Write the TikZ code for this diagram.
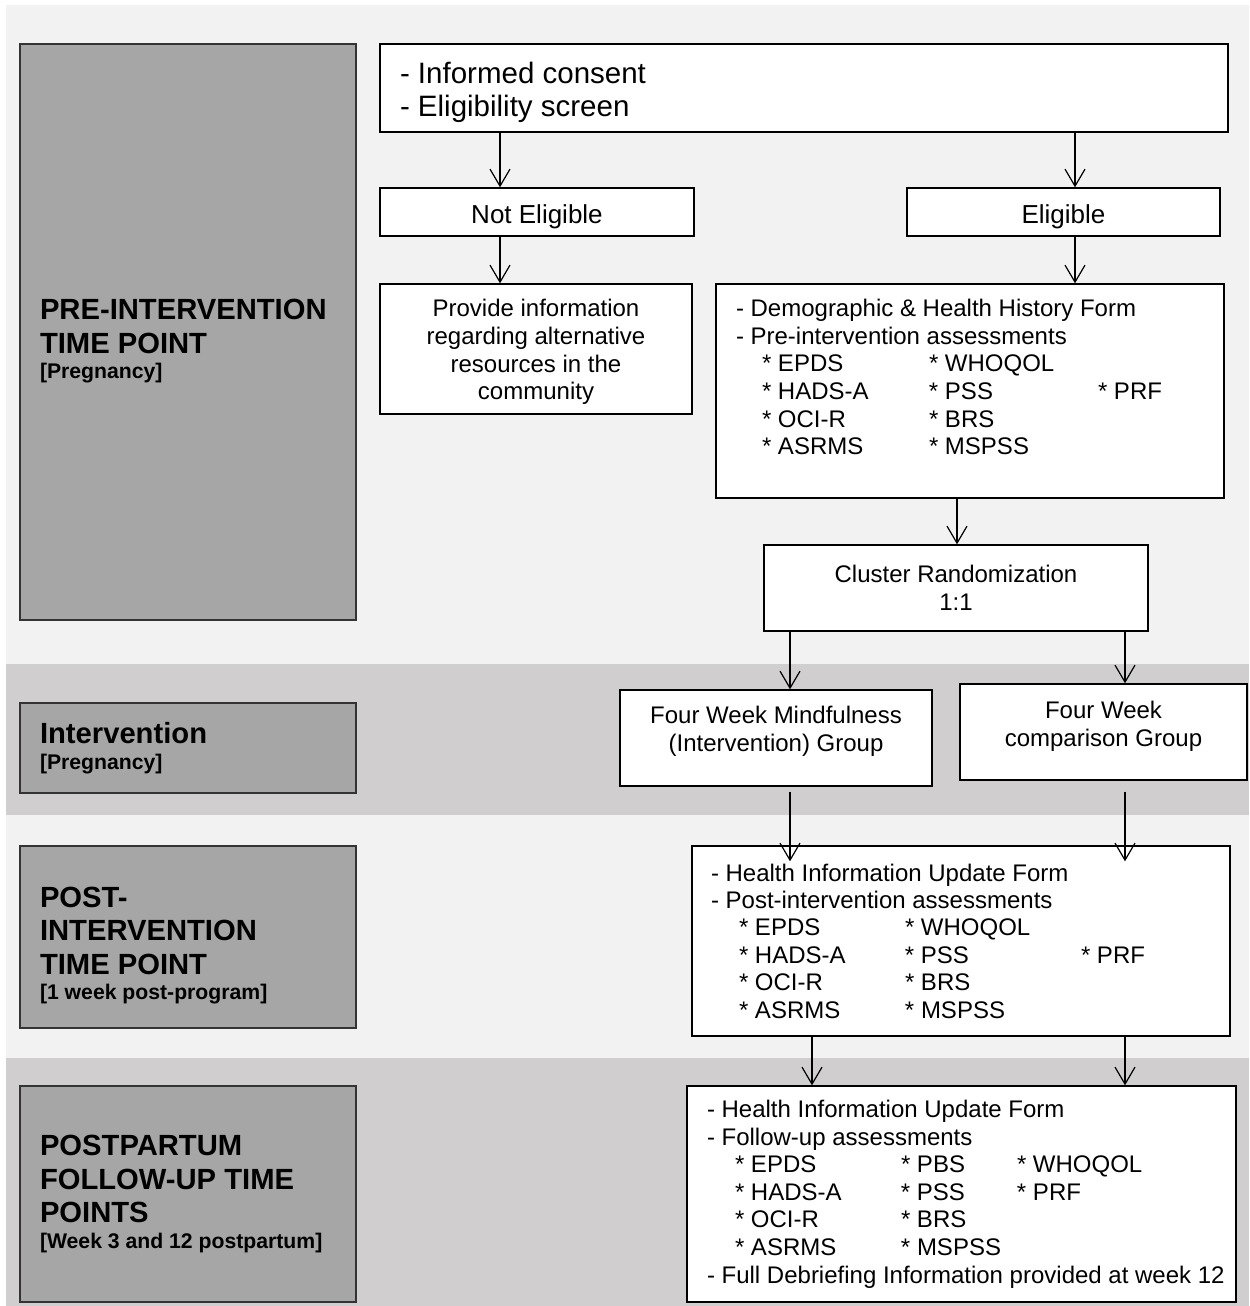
\documentclass[tikz,border=0pt]{standalone}
\usepackage{fontspec}
\setmainfont{Liberation Sans}
\usetikzlibrary{arrows.meta}
\definecolor{pale}{HTML}{F2F2F2}
\definecolor{band}{HTML}{D0CECE}
\definecolor{phase}{HTML}{A6A6A6}
\newcommand{\subhead}{\fontsize{10.6}{12}\selectfont}
\newcommand{\boxfont}{\fontsize{12}{13.8}\selectfont}
\newcommand{\tests}[6]{\hspace*{#1}\makebox[#2][l]{#4}\makebox[#3][l]{#5}#6}

\begin{document}
\begin{tikzpicture}[x=0.5pt,y=-0.5pt,>={Straight Barb[length=8.5pt,width=10pt]},line width=0.6pt,
  box/.style={draw,line width=0.7pt,fill=white,inner xsep=10pt,inner ysep=0pt,font=\boxfont},
  phase box/.style={draw=black!80,line width=0.7pt,fill=phase,inner xsep=10pt,inner ysep=0pt,minimum width=168pt,text width=148pt,align=flush left,font=\fontsize{14.6}{16.75}\selectfont\bfseries}]

    \useasboundingbox (0,0) rectangle (1249,1306);
    \fill[pale] (6,5) rectangle (1249,1306);
    \fill[band] (6,664) rectangle (1249,815);
    \fill[band] (6,1058) rectangle (1249,1306);

    % time points
    \node[phase box, minimum height=288pt] (pre) at (188,332) {\rule{0pt}{19.5pt}PRE-INTERVENTION\\TIME POINT\\[-4pt]\mbox{\subhead [Pregnancy]}};
    \node[phase box, minimum height=45pt] (int) at (188,748) {Intervention\\[-4pt]\mbox{\subhead [Pregnancy]}};
    \node[phase box, minimum height=91pt] (postp) at (188,937) {\rule{0pt}{18.5pt}POST-\\INTERVENTION\\TIME POINT\\[-4pt]\mbox{\subhead [1 week post-program]}};
    \node[phase box, minimum height=108pt] (fup) at (188,1194) {POSTPARTUM\\FOLLOW-UP TIME\\POINTS\\[-4pt]\mbox{\subhead [Week 3 and 12 postpartum]}};

    % flow
    \node[box, minimum height=44pt, text width=404pt, align=flush left, font=\fontsize{14.75}{16.5}\selectfont] (cons) at (804,88) {\rule{0pt}{15pt}- Informed consent\\- Eligibility screen};
    \node[box, minimum height=24pt, text width=137pt, align=flush center, font=\fontsize{13}{15}\selectfont] (ne) at (537,212) {\rule{0pt}{14.5pt}Not Eligible};
    \node[box, minimum height=24pt, text width=136.5pt, align=flush center, font=\fontsize{13}{15}\selectfont] (el) at (1063.5,212) {\rule{0pt}{14.5pt}Eligible};
    \node[box, minimum height=65pt, text width=136pt, align=flush center] (info) at (536,349) {\rule{0pt}{11.8pt}Provide information\\regarding alternative\\resources in the\\community};
    \node[box, minimum height=107pt, text width=234pt, align=flush left] (demo) at (970,391) {- Demographic \& Health History Form\\
      - Pre-intervention assessments\\
      \tests{13pt}{83.5pt}{84.5pt}{* EPDS}{* WHOQOL}{}\\
      \tests{13pt}{83.5pt}{84.5pt}{* HADS-A}{* PSS}{* PRF}\\
      \tests{13pt}{83.5pt}{84.5pt}{* OCI-R}{* BRS}{}\\
      \tests{13pt}{83.5pt}{84.5pt}{* ASRMS}{* MSPSS}{}\rule[-14pt]{0pt}{0pt}};
    \node[box, minimum height=43pt, text width=172pt, align=flush center] (rand) at (956,588) {Cluster Randomization\\1:1};
    \node[box, minimum height=48pt, text width=136pt, align=flush center] (mind) at (776,738) {Four Week Mindfulness\\(Intervention) Group\rule[-9.5pt]{0pt}{0pt}};
    \node[box, minimum height=48pt, text width=123.5pt, align=flush center] (comp) at (1103.5,732) {Four Week\\comparison Group\rule[-8.5pt]{0pt}{0pt}};
    \node[box, minimum height=95pt, text width=250pt, inner xsep=9.5pt, align=flush left, font=\fontsize{12}{13.7}\selectfont] (post) at (961,941) {- Health Information Update Form\\
      - Post-intervention assessments\\
      \tests{14pt}{83pt}{88pt}{* EPDS}{* WHOQOL}{}\\
      \tests{14pt}{83pt}{88pt}{* HADS-A}{* PSS}{* PRF}\\
      \tests{14pt}{83pt}{88pt}{* OCI-R}{* BRS}{}\\
      \tests{14pt}{83pt}{88pt}{* ASRMS}{* MSPSS}{}};
    \node[box, minimum height=108pt, text width=254.5pt, align=flush left] (follow) at (961.5,1194) {- Health Information Update Form\\
      - Follow-up assessments\\
      \tests{14pt}{83pt}{58pt}{* EPDS}{* PBS}{* WHOQOL}\\
      \tests{14pt}{83pt}{58pt}{* HADS-A}{* PSS}{* PRF}\\
      \tests{14pt}{83pt}{58pt}{* OCI-R}{* BRS}{}\\
      \tests{14pt}{83pt}{58pt}{* ASRMS}{* MSPSS}{}\\
      \mbox{- Full Debriefing Information provided at week 12}};

    \coordinate (ncol) at (500,0);
    \coordinate (ecol) at (1075,0);
    \coordinate (dcol) at (957,0);
    \coordinate (mcol) at (790,0);
    \coordinate (ccol) at (1125,0);
    \coordinate (fcol) at (812,0);

    \draw[->] (cons.south -| ncol) to (ne.north -| ncol);
    \draw[->] (cons.south -| ecol) to (el.north -| ecol);
    \draw[->] (ne.south -| ncol) to (info.north -| ncol);
    \draw[->] (el.south -| ecol) to (demo.north -| ecol);
    \draw[->] (demo.south -| dcol) to (rand.north -| dcol);
    \draw[->] (rand.south -| mcol) to (mind.north -| mcol);
    \draw[->] (rand.south -| ccol) to (comp.north -| ccol);
    \draw[->, shorten <=2.5pt, shorten >=-8pt] (mind.south -| mcol) to (post.north -| mcol);
    \draw[->, shorten <=5.5pt, shorten >=-8pt] (comp.south -| ccol) to (post.north -| ccol);
    \draw[->] (post.south -| fcol) to (follow.north -| fcol);
    \draw[->] (post.south -| ccol) to (follow.north -| ccol);

\end{tikzpicture}
\end{document}
